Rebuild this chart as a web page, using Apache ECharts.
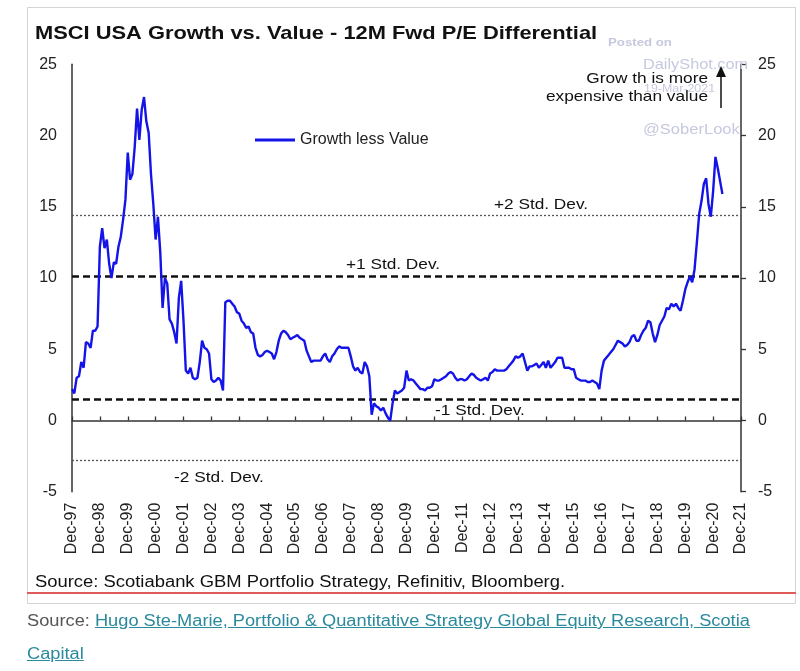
<!DOCTYPE html>
<html>
<head>
<meta charset="utf-8">
<script src="https://cdn.jsdelivr.net/npm/echarts@6.0.0/dist/echarts.min.js"></script>
<style>
  html, body { margin: 0; padding: 0; background: #fff; }
  #chart { position: absolute; left: 0; top: 0; width: 800px; height: 671px; }
  #src { position: absolute; left: 27px; top: 604px; font-family: 'Liberation Sans', Arial, sans-serif;
         font-size: 16px; line-height: 33px; color: #555; transform: scaleX(1.14); transform-origin: 0 0; white-space: nowrap; }
  #src a { color: #2a8a9c; text-decoration: underline; }
</style>
</head>
<body>
<div id="chart"></div>
<div id="src">Source: <a href="#">Hugo Ste-Marie, Portfolio &amp; Quantitative Strategy Global Equity Research, Scotia<br>Capital</a></div>
<script>
// ---- Data ----
const yearLabels = ['Dec-97','Dec-98','Dec-99','Dec-00','Dec-01','Dec-02','Dec-03','Dec-04','Dec-05','Dec-06',
  'Dec-07','Dec-08','Dec-09','Dec-10','Dec-11','Dec-12','Dec-13','Dec-14','Dec-15','Dec-16','Dec-17','Dec-18',
  'Dec-19','Dec-20','Dec-21'];
const monthNames = ['Dec','Jan','Feb','Mar','Apr','May','Jun','Jul','Aug','Sep','Oct','Nov'];
const seriesName = 'Growth less Value';
// Monthly values starting Dec-97
const growthLessValue = [
  2.2, 1.9, 3.0, 3.1, 4.1, 3.7, 5.5, 5.4, 5.1, 6.3, 6.3, 6.6,
  12.2, 13.5, 12.1, 12.7, 11.0, 10.0, 11.1, 11.0, 12.2, 12.9, 14.1, 15.5,
  18.8, 16.9, 17.3, 19.2, 21.9, 19.7, 21.8, 22.7, 21.0, 20.2, 17.3, 15.2,
  12.7, 14.3, 11.8, 7.9, 10.0, 9.6, 7.1, 6.8, 6.2, 5.4, 8.6, 9.8,
  7.0, 3.5, 3.3, 3.7, 3.0, 2.9, 3.0, 4.1, 5.6, 5.1, 5.0, 4.7,
  2.9, 2.7, 2.8, 3.0, 2.8, 2.1, 8.3, 8.4, 8.4, 8.2, 8.0, 7.6,
  7.5, 7.0, 6.8, 6.5, 6.6, 6.2, 6.1, 5.1, 4.6, 4.5, 4.6, 4.8,
  4.9, 4.8, 4.7, 4.3, 4.8, 5.6, 6.1, 6.3, 6.2, 6.0, 5.7, 5.8,
  5.9, 6.0, 5.8, 5.7, 5.6, 4.9, 4.5, 4.1, 4.2, 4.2, 4.2, 4.2,
  4.5, 4.7, 4.3, 4.1, 4.5, 4.7, 5.0, 5.2, 5.1, 5.1, 5.1, 5.1,
  4.5, 3.8, 3.5, 3.7, 3.4, 3.3, 4.1, 3.8, 3.1, 0.4, 1.2, 1.0,
  0.9, 0.7, 0.9, 0.5, 0.2, 0.0, 1.2, 2.1, 1.9, 2.0, 2.1, 2.3,
  3.5, 2.8, 2.9, 2.8, 2.6, 2.4, 2.2, 2.2, 2.1, 2.3, 2.3, 2.4,
  2.9, 2.8, 2.8, 2.9, 3.0, 3.1, 3.3, 3.4, 3.3, 3.0, 2.8, 2.9,
  2.9, 2.8, 2.9, 3.1, 3.3, 3.2, 3.0, 2.9, 2.8, 2.9, 3.0, 2.8,
  3.3, 3.4, 3.6, 3.5, 3.5, 3.5, 3.5, 3.6, 3.8, 4.0, 4.2, 4.5,
  4.4, 4.5, 4.7, 4.1, 3.5, 3.8, 3.8, 3.9, 4.0, 3.7, 3.9, 4.1,
  3.7, 4.2, 3.7, 3.9, 4.1, 4.4, 4.4, 4.4, 3.7, 3.7, 3.7, 3.6,
  3.6, 3.0, 2.9, 2.8, 2.8, 2.8, 2.7, 2.7, 2.8, 2.7, 2.6, 2.2,
  3.5, 4.2, 4.4, 4.6, 4.8, 5.0, 5.3, 5.6, 5.5, 5.4, 5.2, 5.3,
  5.5, 5.9, 6.0, 5.6, 5.6, 6.0, 6.3, 6.5, 7.0, 6.9, 6.1, 5.5,
  6.0, 6.7, 7.0, 7.3, 7.9, 7.8, 8.2, 8.0, 8.2, 7.9, 7.7, 8.4,
  9.2, 9.7, 10.1, 9.7, 10.6, 12.5, 14.5, 15.4, 16.6, 17.0, 15.2, 14.3,
  16.1, 18.5, 17.7, 16.8, 15.9
];
const stdDevNames = ['+2 Std. Dev.', '+1 Std. Dev.', '-1 Std. Dev.', '-2 Std. Dev.'];
const stdDevValues = [14.4, 10.1, 1.5, -2.8];
const yTicks = [-5, 0, 5, 10, 15, 20, 25];

// ---- Build categories (one per month, Dec-97 .. Dec-21) ----
const categories = [];
for (let i = 0; i < (yearLabels.length - 1) * 12 + 1; i++) {
  const k = i % 12;
  if (k === 0) categories.push(yearLabels[i / 12]);
  else {
    const yy = (97 + Math.floor(i / 12) + 1) % 100;
    categories.push(monthNames[k] + '-' + String(yy).padStart(2, '0'));
  }
}
const isYearTick = (idx) => idx % 12 === 0;

const FONT = 'Liberation Sans';
const SX = 1.15;

const dashedStyle = { type: [7, 4], width: 2.6, color: '#111' };
const dottedStyle = { type: [2, 2], width: 1.3, color: '#555' };
const stdStyles = [dottedStyle, dashedStyle, dashedStyle, dottedStyle];

const yAxisBase = {
  type: 'value', min: yTicks[0], max: yTicks[yTicks.length - 1], interval: 5,
  splitLine: { show: false },
  axisLine: { show: true, onZero: false, lineStyle: { color: '#333', width: 1.5 } },
  axisLabel: { fontSize: 16, color: '#222', fontFamily: FONT }
};

const option = {
  animation: false,
  backgroundColor: '#fff',
  grid: { left: 72, right: 59, top: 64.3, bottom: 179.3, containLabel: false },
  legend: {
    data: [seriesName], left: 255, top: 132, padding: 0, icon: 'rect', itemWidth: 40, itemHeight: 3,
    textStyle: { fontSize: 16, color: '#222', fontFamily: FONT }
  },
  xAxis: [
    {
      type: 'category', data: categories, boundaryGap: false, position: 'bottom',
      axisLine: { show: true, onZero: true, lineStyle: { color: '#333', width: 1.5 } },
      axisTick: { show: true, inside: true, length: 4, interval: isYearTick, lineStyle: { color: '#333', width: 1.3 } },
      axisLabel: { show: false },
      splitLine: { show: false }
    },
    {
      type: 'category', data: categories, boundaryGap: false, position: 'bottom',
      axisLine: { show: false, onZero: false }, axisTick: { show: false },
      axisLabel: { show: true, rotate: 90, interval: isYearTick, margin: 11, fontSize: 16, color: '#222', fontFamily: FONT },
      splitLine: { show: false }
    }
  ],
  yAxis: [
    Object.assign({}, yAxisBase, { position: 'left', axisTick: { show: false },
      axisLabel: Object.assign({}, yAxisBase.axisLabel, { margin: 15 }) }),
    Object.assign({}, yAxisBase, { position: 'right',
      axisTick: { show: true, inside: false, length: 5, lineStyle: { color: '#333', width: 1.3 } },
      axisLabel: Object.assign({}, yAxisBase.axisLabel, { margin: 17 }) })
  ],
  series: [{
    name: seriesName, type: 'line', xAxisIndex: 0, yAxisIndex: 0,
    data: growthLessValue, showSymbol: false, symbol: 'none',
    lineStyle: { color: '#1414e8', width: 2.4 }, itemStyle: { color: '#1414e8' },
    z: 5,
    markLine: {
      silent: true, symbol: 'none', label: { show: false },
      data: stdDevValues.map((v, i) => ({ yAxis: v, lineStyle: stdStyles[i] }))
    }
  }]
};

const chart = echarts.init(document.getElementById('chart'), null, { renderer: 'canvas' });
chart.setOption(option);

// ---- Annotations (text layout) ----
function txt(text, x, y, size, opts) {
  opts = opts || {};
  return {
    type: 'text', x: x, y: y, scaleX: SX, scaleY: 1, z: 10,
    style: {
      text: text, fontSize: size, fontFamily: FONT, fontWeight: opts.bold ? 'bold' : 'normal',
      fill: opts.color || '#222', align: opts.align || 'left', verticalAlign: 'middle'
    }
  };
}
const stdLabelPos = [[541, 205], [393, 265], [480, 411], [219, 478]];
const wm = '#c6c9de';
const graphics = [
  { type: 'rect', shape: { x: 27.5, y: 7.5, width: 768, height: 596 }, style: { fill: 'none', stroke: '#d4d4d4', lineWidth: 1 }, z: 0 },
  { type: 'line', shape: { x1: 27, y1: 593, x2: 796, y2: 593 }, style: { stroke: '#e05a5a', lineWidth: 2 }, z: 1 },
  txt('MSCI USA Growth vs. Value - 12M Fwd P/E Differential', 35, 33.5, 19, { bold: true, color: '#111' }),
  txt('Source: Scotiabank GBM Portfolio Strategy, Refinitiv, Bloomberg.', 35, 583, 16, { color: '#111' }),
  txt('Posted on', 608, 43, 11.5, { bold: true, color: wm }),
  txt('DailyShot.com', 643, 65, 14.2, { color: wm }),
  txt('19-Mar-2021', 644, 89, 10.8, { color: wm }),
  txt('@SoberLook', 643, 130, 14.4, { color: wm }),
  txt('Grow th is more', 708, 79, 15, { align: 'right', color: '#111' }),
  txt('expensive than value', 708, 97, 15, { align: 'right', color: '#111' }),
  { type: 'line', shape: { x1: 721, y1: 108, x2: 721, y2: 74 }, style: { stroke: '#111', lineWidth: 1.5 }, z: 10 },
  { type: 'polygon', shape: { points: [[721, 66], [716, 77], [726, 77]] }, style: { fill: '#111' }, z: 10 }
];
stdDevNames.forEach((n, i) => {
  graphics.push(txt(n, stdLabelPos[i][0], stdLabelPos[i][1], 15, { align: 'center', color: '#111' }));
});
chart.setOption({ graphic: graphics });
</script>
</body>
</html>
